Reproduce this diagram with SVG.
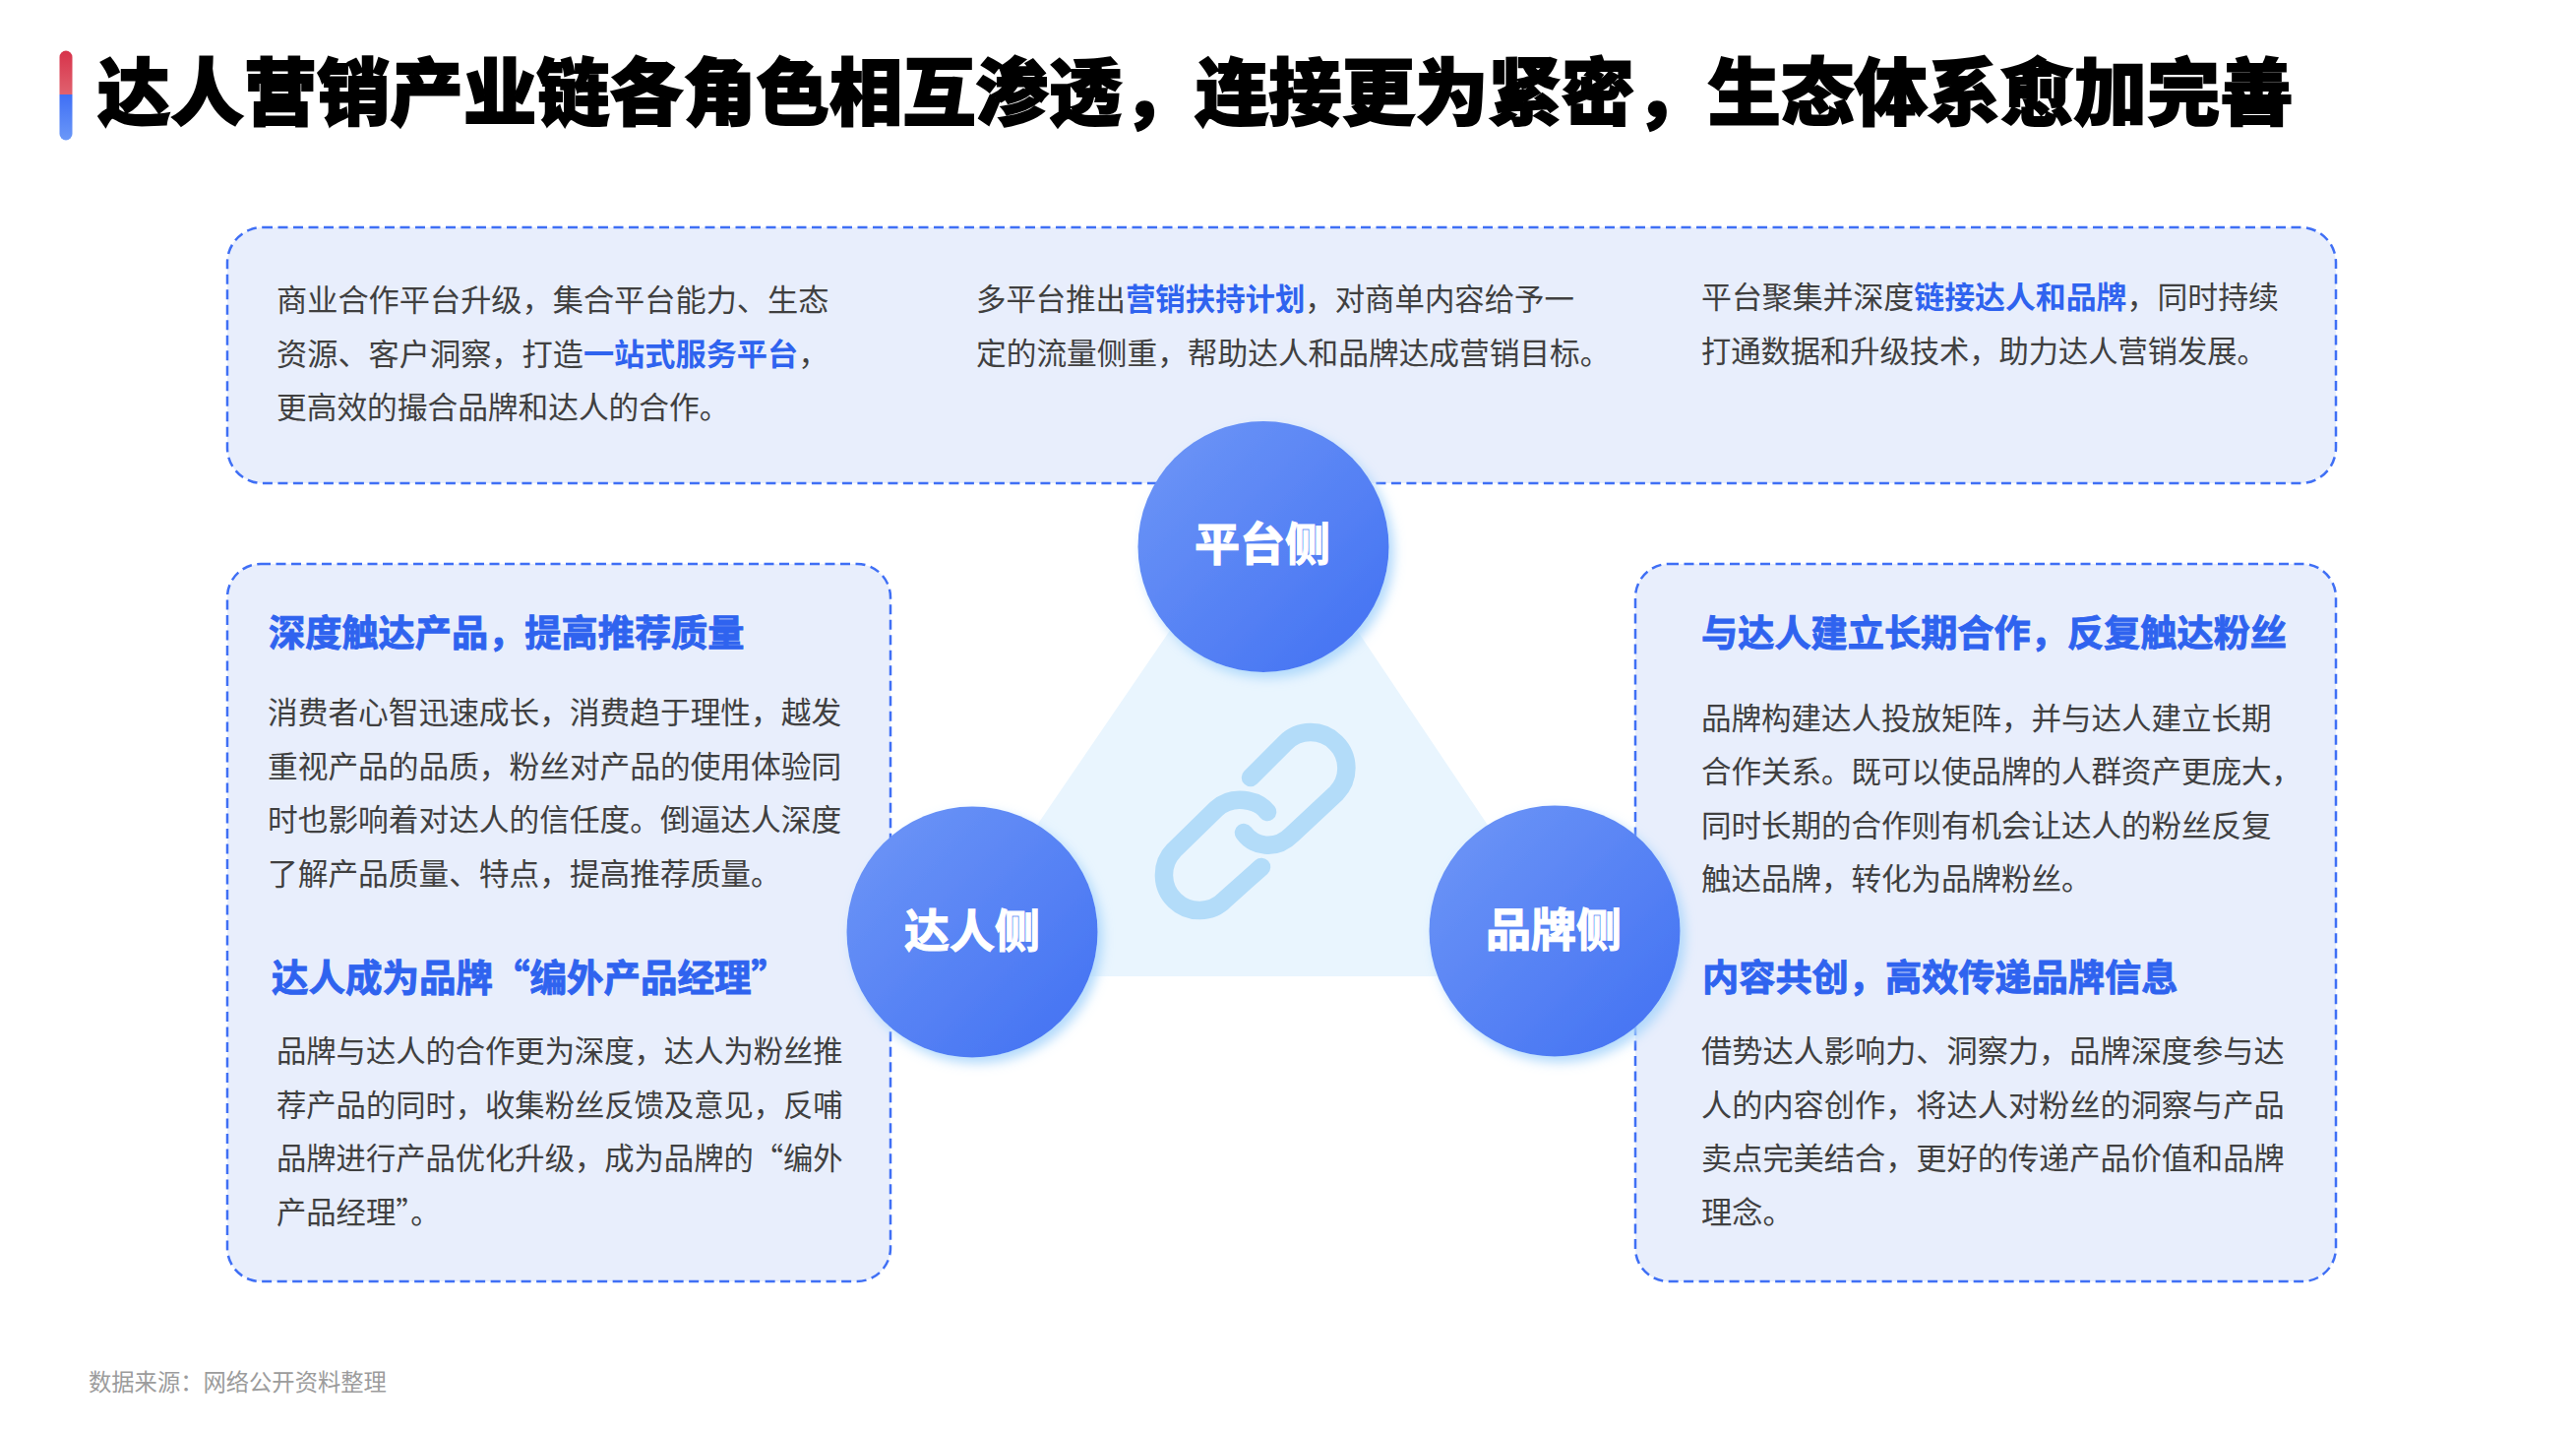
<svg xmlns="http://www.w3.org/2000/svg" width="2618" height="1454" viewBox="0 0 2618 1454">
<defs>
<linearGradient id="gRed" x1="0" y1="0" x2="0" y2="1"><stop offset="0" stop-color="#d7324a"/><stop offset="1" stop-color="#e0626f"/></linearGradient>
<linearGradient id="gBlue" x1="0" y1="0" x2="0" y2="1"><stop offset="0" stop-color="#3f6ff5"/><stop offset="1" stop-color="#6b98f8"/></linearGradient>
<linearGradient id="gCircle" x1="0.15" y1="0.15" x2="0.85" y2="0.85"><stop offset="0" stop-color="#6891f6"/><stop offset="1" stop-color="#4876f3"/></linearGradient>
<filter id="shadow" x="-20%" y="-20%" width="140%" height="140%"><feDropShadow dx="5" dy="6" stdDeviation="6" flood-color="#a9d6fb" flood-opacity="0.9"/></filter>
</defs>
<style>
text{font-family:"Noto Sans CJK SC","Noto Sans",sans-serif}
.box{fill:#e8eefc;stroke:#3f6ff5;stroke-width:2.5;stroke-dasharray:10 5.5}
.b{font-size:30.7px;fill:#404040;font-weight:400}
.h{font-size:37.2px;fill:#2f63ef;font-weight:700;stroke:#2f63ef;stroke-width:.9}
.em{fill:#2f63ef;font-weight:700}
.c{font-size:46px;fill:#fff;font-weight:700;text-anchor:middle;stroke:#fff;stroke-width:1.2}
.circle{fill:url(#gCircle);filter:url(#shadow)}
</style>
<rect width="2618" height="1454" fill="#fff"/>
<g id="title">
<path d="M60.5 96V58a6.5 6.5 0 0 1 13 0V96z" fill="url(#gRed)"/>
<path d="M60.5 96H73.5V136a6.5 6.5 0 0 1-13 0z" fill="url(#gBlue)"/>
<text x="99" y="121" font-size="74.4" font-weight="900" fill="#000" stroke="#000" stroke-width="1.8">达人营销产业链各角色相互渗透，连接更为紧密，生态体系愈加完善</text>
</g>
<g id="box-platform">
<rect class="box" x="231" y="231" width="2143" height="260" rx="36"/>
<text class="b" x="281" y="316" style="font-size:31.2px">商业合作平台升级，集合平台能力、生态</text>
<text class="b" x="281" y="371" style="font-size:31.2px">资源、客户洞察，打造<tspan class="em">一站式服务平台</tspan>，</text>
<text class="b" x="281" y="425">更高效的撮合品牌和达人的合作。</text>
<text class="b" x="992" y="315" style="font-size:30.4px">多平台推出<tspan class="em">营销扶持计划</tspan>，对商单内容给予一</text>
<text class="b" x="992" y="370">定的流量侧重，帮助达人和品牌达成营销目标。</text>
<text class="b" x="1729" y="313" style="font-size:30.9px">平台聚集并深度<tspan class="em">链接达人和品牌</tspan>，同时持续</text>
<text class="b" x="1729" y="368" style="font-size:30.25px">打通数据和升级技术，助力达人营销发展。</text>
</g>
<g id="box-talent">
<rect class="box" x="231" y="573" width="674" height="729" rx="34"/>
<text class="h" x="273" y="657">深度触达产品，提高推荐质量</text>
<text class="b" x="272" y="735">消费者心智迅速成长，消费趋于理性，越发</text>
<text class="b" x="272" y="790">重视产品的品质，粉丝对产品的使用体验同</text>
<text class="b" x="272" y="844">时也影响着对达人的信任度。倒逼达人深度</text>
<text class="b" x="272" y="899">了解产品质量、特点，提高推荐质量。</text>
<text class="h" x="276" y="1007" style="font-size:37.5px">达人成为品牌“编外产品经理”</text>
<text class="b" x="281" y="1079" style="font-size:30.3px">品牌与达人的合作更为深度，达人为粉丝推</text>
<text class="b" x="281" y="1134" style="font-size:30.3px">荐产品的同时，收集粉丝反馈及意见，反哺</text>
<text class="b" x="281" y="1188" style="font-size:30.3px">品牌进行产品优化升级，成为品牌的“编外</text>
<text class="b" x="281" y="1243" style="font-size:30.3px">产品经理”。</text>
</g>
<g id="box-brand">
<rect class="box" x="1662" y="573" width="712" height="729" rx="34"/>
<text class="h" x="1729" y="657">与达人建立长期合作，反复触达粉丝</text>
<text class="b" x="1729" y="741" style="font-size:30.5px">品牌构建达人投放矩阵，并与达人建立长期</text>
<text class="b" x="1729" y="795" style="font-size:30.5px">合作关系。既可以使品牌的人群资产更庞大，</text>
<text class="b" x="1729" y="850" style="font-size:30.5px">同时长期的合作则有机会让达人的粉丝反复</text>
<text class="b" x="1729" y="904" style="font-size:30.5px">触达品牌，转化为品牌粉丝。</text>
<text class="h" x="1730" y="1007">内容共创，高效传递品牌信息</text>
<text class="b" x="1729" y="1079" style="font-size:31.2px">借势达人影响力、洞察力，品牌深度参与达</text>
<text class="b" x="1729" y="1134" style="font-size:31.2px">人的内容创作，将达人对粉丝的洞察与产品</text>
<text class="b" x="1729" y="1188" style="font-size:31.2px">卖点完美结合，更好的传递产品价值和品牌</text>
<text class="b" x="1729" y="1243" style="font-size:31.2px">理念。</text>
</g>
<g id="connectors">
<path d="M1285 500L1615 992H949z" fill="#e9f5fe"/>
<g fill="none" stroke="#b3dcf9" stroke-width="18.5" stroke-linecap="round" stroke-linejoin="round">
<path d="M1271 790L1306 755A36 36 0 0 1 1358 806L1313 848C1296 865 1274 860 1264 846"/>
<path d="M1288 825C1278 812 1252 807 1236 822L1193 864A36 36 0 0 0 1245 914L1282 881"/>
</g>
</g>
<g id="node-platform">
<circle class="circle" cx="1284" cy="555.5" r="127.5"/>
<text class="c" x="1283" y="569">平台侧</text>
</g>
<g id="node-talent">
<circle class="circle" cx="988" cy="947" r="127.5"/>
<text class="c" x="988" y="962">达人侧</text>
</g>
<g id="node-brand">
<circle class="circle" cx="1580" cy="946" r="127.5"/>
<text class="c" x="1579" y="961">品牌侧</text>
</g>
<g id="source">
<text x="90" y="1413" font-size="23.3" fill="#9c9c9c">数据来源：网络公开资料整理</text>
</g>
</svg>
